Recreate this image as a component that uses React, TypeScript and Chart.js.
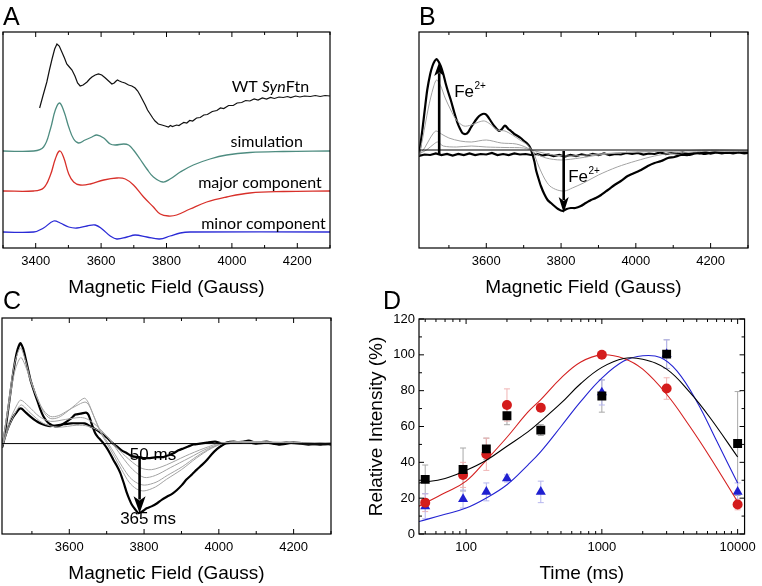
import React, { useEffect, useRef } from "react";
import { Chart, registerables } from "chart.js";

Chart.register(...registerables);

type Pt = [number, number];
const SANS = "'Liberation Sans', Arial, Helvetica, sans-serif";
const HUMAN = "Lato, 'Open Sans', sans-serif";

// ---------------- Panel A (EPR spectra, arbitrary intensity) ----------------
const aFieldMin = 3300;
const aFieldMax = 4300;
const aLabelTicks = [3400, 3600, 3800, 4000, 4200];
const aWt: Pt[] = [
  [3412, 140], [3422, 152], [3434, 166], [3442, 178], [3450, 189], [3458, 199], [3465, 204], [3472, 202],
  [3480, 196], [3488, 190], [3495, 184], [3503, 181], [3511, 178], [3520, 172], [3528, 165], [3536, 162],
  [3545, 163], [3557, 166], [3565, 169], [3572, 171], [3582, 173], [3592, 174], [3602, 173], [3613, 170],
  [3623, 167], [3633, 164], [3640, 165], [3646, 167], [3650, 168], [3656, 167], [3663, 166], [3673, 165],
  [3684, 163], [3694, 162], [3704, 160], [3712, 157], [3719, 153], [3727, 148], [3735, 143], [3742, 138],
  [3750, 134], [3758, 130], [3765, 127], [3775, 124], [3786, 123], [3796, 122], [3806, 121], [3812, 122.5],
  [3818, 121.5], [3831, 123], [3838, 122.5], [3845, 124], [3853, 125.5], [3862, 125], [3871, 127.5], [3880, 127],
  [3892, 130], [3903, 130.5], [3914, 133], [3925, 133.5], [3940, 136.5], [3954, 137.5], [3965, 140], [3975, 139.5],
  [3990, 142.5], [4004, 142.5], [4016, 145], [4030, 145.5], [4042, 147.5], [4055, 147], [4068, 149], [4080, 148],
  [4093, 150], [4106, 149], [4118, 150.5], [4130, 149.5], [4144, 151], [4157, 150.5], [4170, 151.5], [4180, 150.5],
  [4195, 152], [4208, 151], [4222, 152], [4240, 151.5], [4255, 152.5], [4270, 151.5], [4285, 152.5], [4300, 152],
];
const aSim: Pt[] = [
  [3300, 97], [3394, 97], [3424, 101], [3445, 119], [3460, 138], [3473, 145], [3487, 136], [3501, 121],
  [3516, 109], [3531, 105], [3551, 108], [3572, 111], [3587, 113], [3608, 110], [3628, 104], [3643, 103],
  [3669, 104], [3684, 103], [3699, 98], [3719, 89], [3740, 79], [3760, 71], [3789, 66], [3811, 69],
  [3842, 76], [3882, 83], [3933, 89], [3984, 93], [4055, 95.5], [4157, 96.5], [4300, 97],
];
const aMajor: Pt[] = [
  [3300, 57], [3394, 57], [3424, 60], [3445, 73], [3460, 89], [3473, 97], [3485, 91], [3501, 74],
  [3516, 66], [3536, 63], [3567, 64], [3608, 68], [3648, 70], [3674, 69], [3699, 63], [3730, 51],
  [3760, 41], [3781, 34], [3806, 32], [3831, 33], [3872, 39], [3923, 46], [3984, 51], [4055, 55],
  [4157, 56.5], [4300, 57],
];
const aMinor: Pt[] = [
  [3300, 16], [3394, 16], [3424, 20], [3455, 27], [3475, 25], [3501, 21], [3526, 20], [3557, 22],
  [3582, 23], [3603, 19], [3628, 12], [3648, 9], [3679, 11], [3704, 13], [3740, 11], [3779, 9],
  [3811, 12], [3842, 15], [3872, 16], [4300, 16],
];

// ---------------- Panel B ----------------
const bFieldMin = 3420;
const bFieldMax = 4300;
const bLabelTicks = [3600, 3800, 4000, 4200];
const bZero = 98;
const bFinal: Pt[] = [
  [3420, 92], [3429, 118], [3436, 140], [3442, 158], [3450, 174], [3456, 182], [3462, 187], [3467, 189],
  [3473, 186], [3478, 182], [3485, 174], [3491, 165], [3498, 156], [3505, 148], [3514, 136], [3523, 125],
  [3530, 119], [3536, 115], [3545, 114], [3552, 116], [3558, 120], [3565, 124], [3572, 128], [3581, 132],
  [3590, 134], [3597, 134], [3603, 132], [3612, 127], [3621, 122], [3628, 119], [3634, 117], [3642, 119],
  [3648, 122], [3652, 122], [3659, 119], [3666, 117], [3675, 114], [3684, 112], [3692, 110], [3701, 107],
  [3708, 105], [3715, 102], [3720, 98], [3724, 93], [3729, 86], [3733, 78], [3740, 69], [3746, 62],
  [3755, 54], [3764, 48], [3773, 45], [3782, 42], [3792, 39], [3804, 37], [3815, 39], [3826, 40],
  [3838, 40], [3853, 42], [3866, 45], [3880, 48], [3893, 50], [3907, 53], [3925, 58], [3943, 63],
  [3960, 67], [3978, 72], [3996, 75], [4014, 78], [4032, 82], [4050, 85], [4068, 87], [4086, 90],
  [4103, 91], [4121, 93], [4140, 93], [4166, 95], [4185, 94], [4211, 96], [4240, 95], [4270, 96], [4300, 96],
];
const bInitial: Pt[] = [
  [3420, 92], [3435, 93.5], [3450, 93], [3465, 94.5], [3480, 93], [3495, 94], [3510, 92.5], [3525, 94],
  [3540, 93], [3555, 94.5], [3570, 93], [3585, 94], [3600, 93.5], [3615, 95], [3630, 93], [3645, 94],
  [3660, 93], [3675, 94.5], [3690, 93.5], [3705, 94], [3720, 93], [3735, 94], [3750, 92.5], [3765, 93.5],
  [3780, 92], [3795, 93], [3810, 91.5], [3825, 93], [3840, 92], [3855, 93.5], [3870, 92.5], [3885, 94],
  [3900, 93], [3915, 94.5], [3930, 93], [3945, 94], [3960, 93.5], [3975, 95], [3990, 94], [4005, 95],
  [4020, 93.5], [4035, 94.5], [4050, 94], [4065, 95.5], [4080, 94], [4095, 95], [4110, 94.5], [4125, 95.5],
  [4140, 94], [4155, 95], [4170, 94.5], [4185, 96], [4200, 94.5], [4215, 95.5], [4230, 94.5], [4245, 95.5],
  [4260, 94.5], [4275, 95.5], [4290, 94.5], [4300, 95],
];
const bGray1: Pt[] = [
  [3420, 92], [3430, 110], [3445, 140], [3458, 160], [3467, 168], [3478, 162], [3490, 150], [3505, 138],
  [3520, 128], [3540, 122], [3560, 123], [3580, 126], [3595, 127], [3610, 124], [3630, 118], [3650, 117],
  [3670, 113], [3690, 108], [3710, 103], [3725, 96], [3740, 82], [3755, 70], [3770, 62], [3790, 58],
  [3810, 57], [3830, 60], [3860, 65], [3900, 73], [3950, 81], [4000, 87], [4050, 92], [4100, 95],
  [4150, 96], [4200, 97], [4250, 96.5], [4300, 97],
];
const bGray2: Pt[] = [
  [3420, 93], [3435, 100], [3450, 110], [3465, 117], [3480, 114], [3500, 110], [3530, 107], [3560, 106],
  [3600, 108], [3640, 105], [3680, 104], [3710, 100], [3730, 95], [3760, 90], [3800, 88], [3850, 90],
  [3900, 93], [3950, 95], [4000, 96], [4100, 97], [4200, 97.5], [4300, 97],
];
const bGray3: Pt[] = [
  [3420, 94], [3440, 98], [3460, 104], [3470, 106], [3485, 102], [3520, 101], [3560, 102], [3600, 101],
  [3650, 100.5], [3700, 100], [3730, 97], [3780, 93], [3830, 92], [3900, 94], [4000, 96], [4100, 97],
  [4200, 98], [4300, 97.5],
];

// ---------------- Panel C ----------------
const cFieldMin = 3420;
const cFieldMax = 4300;
const cIntensityMin = -8.6;
const cIntensityMax = 215;
const cLabelTicks = [3600, 3800, 4000, 4200];
const cZero = 85;
const c365ms: Pt[] = [
  [3420, 81], [3427, 95], [3433, 110], [3442, 136], [3451, 161], [3460, 180], [3469, 189], [3476, 184],
  [3482, 175], [3489, 163], [3496, 151], [3505, 140], [3514, 130], [3522, 121], [3531, 113], [3540, 108],
  [3549, 105], [3560, 103], [3571, 103], [3582, 105], [3594, 108], [3605, 111], [3616, 115], [3630, 116],
  [3645, 117], [3651, 115], [3656, 110], [3662, 103], [3669, 96], [3676, 92], [3683, 89], [3692, 85],
  [3701, 80], [3710, 74], [3718, 68], [3727, 62], [3736, 55], [3745, 45], [3754, 34], [3761, 27],
  [3767, 22], [3776, 17], [3785, 13], [3796, 15], [3807, 18], [3820, 20], [3834, 23], [3848, 27],
  [3861, 30], [3875, 33], [3888, 37], [3901, 42], [3914, 48], [3928, 53], [3941, 58], [3955, 63],
  [3968, 68], [3981, 74], [3994, 79], [4008, 83], [4021, 86], [4040, 87], [4057, 86], [4080, 88],
  [4100, 86], [4128, 87], [4150, 85], [4180, 86], [4217, 85], [4240, 84], [4270, 85], [4300, 84],
];
const c50ms: Pt[] = [
  [3420, 81], [3428, 92], [3438, 103], [3449, 112], [3460, 118], [3467, 121], [3473, 121], [3484, 117],
  [3496, 113], [3509, 109], [3522, 106], [3536, 104], [3549, 103], [3567, 104], [3585, 105], [3605, 106],
  [3625, 106], [3640, 106], [3647, 105], [3660, 102], [3674, 99], [3688, 95], [3701, 91], [3714, 86],
  [3727, 82], [3740, 78], [3754, 75], [3767, 72], [3781, 71], [3798, 70], [3816, 70], [3834, 71],
  [3852, 71], [3866, 73], [3879, 75], [3892, 78], [3905, 80], [3918, 82], [3932, 84], [3950, 85],
  [3968, 86], [3990, 87], [4010, 85], [4039, 86], [4070, 87], [4100, 85], [4128, 86], [4160, 84],
  [4200, 86], [4240, 85], [4270, 84], [4300, 85],
];
const cGrayA: Pt[] = [
  [3420, 81], [3435, 120], [3452, 165], [3469, 184], [3482, 172], [3496, 152], [3514, 133], [3531, 118],
  [3549, 111], [3571, 112], [3594, 118], [3616, 125], [3640, 132], [3650, 128], [3665, 114], [3683, 97],
  [3701, 85], [3720, 72], [3740, 58], [3760, 45], [3780, 38], [3800, 36], [3830, 40], [3860, 48],
  [3900, 58], [3940, 70], [3980, 80], [4020, 86], [4100, 87], [4200, 86], [4300, 85],
];
const cGrayB: Pt[] = [
  [3420, 81], [3436, 118], [3453, 158], [3470, 174], [3483, 165], [3498, 148], [3515, 131], [3532, 119],
  [3550, 113], [3572, 114], [3595, 119], [3618, 124], [3642, 128], [3652, 125], [3667, 112], [3685, 97],
  [3703, 86], [3722, 74], [3742, 61], [3762, 50], [3782, 44], [3802, 42], [3832, 45], [3862, 52],
  [3902, 61], [3942, 72], [3982, 81], [4022, 86], [4100, 87], [4200, 85], [4300, 86],
];
const cGrayC: Pt[] = [
  [3420, 81], [3440, 108], [3460, 125], [3470, 130], [3490, 124], [3520, 113], [3550, 108], [3590, 110],
  [3630, 112], [3650, 110], [3680, 101], [3710, 88], [3740, 72], [3770, 58], [3800, 50], [3830, 52],
  [3870, 60], [3920, 70], [3970, 80], [4020, 86], [4100, 86], [4200, 85], [4300, 85],
];
const cGrayD: Pt[] = [
  [3420, 81], [3440, 104], [3460, 120], [3472, 125], [3495, 117], [3530, 106], [3570, 102], [3620, 104],
  [3650, 103], [3690, 96], [3720, 84], [3750, 72], [3790, 60], [3820, 58], [3860, 63], [3910, 72],
  [3960, 80], [4010, 86], [4100, 86], [4200, 86], [4300, 85],
];

// ---------------- Panel D (Relative intensity vs time) ----------------
const dTimes = [50, 95, 141, 200, 355, 1000, 3000, 10000];
const dBlack = [30.5, 36, 47.5, 66, 58, 77, 100.4, 50.5];
const dBlackErr = [8, 12, 6, 5, 3, 9, 8, 29];
const dRed = [17.5, 33, 44.5, 72, 70.5, 100, 81.2, 16.5];
const dRedErr = [5, 7, 9, 9, 2, 1, 6, 3];
const dBlue = [15.5, 19.5, 23.5, 31, 23.5, 79, 100.4, 23.5];
const dBlueErr = [7, 5, 5, 2, 6, 7, 8, 5];
const dFitBlackT = [45, 70, 100, 140, 200, 285, 355, 500, 700, 1000, 1450, 2000, 3000, 4450, 6250, 10000];
const dFitBlack = [28.5, 31, 35.5, 41, 49, 57, 63, 73, 84, 93, 98, 97.5, 92, 79, 65, 43];
const dFitRedT = [45, 70, 100, 140, 200, 285, 355, 500, 700, 1000, 1450, 2000, 3000, 4450, 6250, 10000];
const dFitRed = [15.5, 23, 29.5, 41, 54, 68, 75, 87, 96, 100, 98, 92, 78, 60, 43, 18];
const dFitBlueT = [45, 70, 100, 140, 200, 285, 355, 500, 700, 1000, 1450, 2000, 2700, 3570, 5000, 7000, 10000];
const dFitBlue = [7, 11, 14.5, 20, 27.5, 38.5, 46, 60, 74, 87, 96.5, 99.5, 98.5, 91, 74, 52, 28.5];
const dTimeLabels = [100, 1000, 10000];
const dIntensityLabels = [0, 20, 40, 60, 80, 100, 120];

// ---------------- helpers ----------------
const toXY = (p: Pt[]) => p.map(([x, y]) => ({ x, y }));
const zip = (xs: number[], ys: number[]) => xs.map((x, i) => ({ x, y: ys[i] }));
const range = (a: number, b: number, s: number) => {
  const out: number[] = [];
  for (let v = a; v <= b + 1e-9; v += s) out.push(v);
  return out;
};

interface Ann { text: string; x: number; y: number; font: string; align?: CanvasTextAlign; sup?: string; supFont?: string }
interface Arrow { x: number; y0: number; y1: number; lw: number; hw: number; hl: number }
interface Decor {
  letter: string; lx: number; ly: number;
  xMajor: number[]; xMinor: number[]; yMajor?: number[]; yMinor?: number[];
  ann?: Ann[]; arrows?: Arrow[];
  errors?: { xs: number[]; ys: number[]; err: number[]; color: string }[];
}

const decorPlugin = (d: Decor) => ({
  id: "decor",
  beforeDatasetsDraw(chart: any) {
    if (!d.errors) return;
    const { ctx, scales } = chart;
    ctx.save();
    ctx.lineWidth = 1;
    for (const e of d.errors) {
      ctx.strokeStyle = e.color;
      ctx.beginPath();
      e.xs.forEach((x, i) => {
        const px = scales.x.getPixelForValue(x);
        const top = scales.y.getPixelForValue(e.ys[i] + e.err[i]);
        const bot = scales.y.getPixelForValue(e.ys[i] - e.err[i]);
        ctx.moveTo(px, top); ctx.lineTo(px, bot);
        ctx.moveTo(px - 3, top); ctx.lineTo(px + 3, top);
        ctx.moveTo(px - 3, bot); ctx.lineTo(px + 3, bot);
      });
      ctx.stroke();
    }
    ctx.restore();
  },
  afterDatasetsDraw(chart: any) {
    const { ctx, chartArea: a, scales } = chart;
    const xs = scales.x, ys = scales.y;
    ctx.save();
    // annotations
    ctx.fillStyle = "#000";
    ctx.textBaseline = "alphabetic";
    for (const t of d.ann || []) {
      ctx.font = t.font;
      ctx.textAlign = t.align || "left";
      const px = xs.getPixelForValue(t.x);
      const py = ys.getPixelForValue(t.y);
      ctx.fillText(t.text, px, py);
      if (t.sup) {
        const w = ctx.measureText(t.text).width;
        ctx.font = t.supFont || t.font;
        ctx.textAlign = "left";
        ctx.fillText(t.sup, px + w + 0.5, py - 8);
      }
    }
    // arrows
    for (const ar of d.arrows || []) {
      const px = xs.getPixelForValue(ar.x);
      const p0 = ys.getPixelForValue(ar.y0);
      const p1 = ys.getPixelForValue(ar.y1);
      const dir = p1 < p0 ? -1 : 1;
      ctx.strokeStyle = "#000";
      ctx.fillStyle = "#000";
      ctx.lineWidth = ar.lw;
      ctx.beginPath();
      ctx.moveTo(px, p0);
      ctx.lineTo(px, p1 - dir * ar.hl * 0.8);
      ctx.stroke();
      ctx.beginPath();
      ctx.moveTo(px, p1);
      ctx.lineTo(px - ar.hw / 2, p1 - dir * ar.hl);
      ctx.lineTo(px, p1 - dir * ar.hl * 0.75);
      ctx.lineTo(px + ar.hw / 2, p1 - dir * ar.hl);
      ctx.closePath();
      ctx.fill();
    }
    // frame
    ctx.strokeStyle = "#000";
    ctx.lineWidth = 1.2;
    ctx.strokeRect(a.left, a.top, a.right - a.left, a.bottom - a.top);
    ctx.lineWidth = 1;
    ctx.beginPath();
    const hx = (vals: number[], len: number) => vals.forEach((v) => {
      const p = xs.getPixelForValue(v);
      ctx.moveTo(p, a.bottom); ctx.lineTo(p, a.bottom - len);
      ctx.moveTo(p, a.top); ctx.lineTo(p, a.top + len);
    });
    const vy = (vals: number[], len: number) => vals.forEach((v) => {
      const p = ys.getPixelForValue(v);
      ctx.moveTo(a.left, p); ctx.lineTo(a.left + len, p);
      ctx.moveTo(a.right, p); ctx.lineTo(a.right - len, p);
    });
    hx(d.xMajor, 5); hx(d.xMinor, 3);
    if (d.yMajor) vy(d.yMajor, 5);
    if (d.yMinor) vy(d.yMinor, 3);
    ctx.stroke();
    // panel letter
    ctx.fillStyle = "#000";
    ctx.font = `25px ${SANS}`;
    ctx.textAlign = "left";
    ctx.fillText(d.letter, d.lx, d.ly);
    ctx.restore();
  },
});

const line = (data: Pt[], color: string, width: number, tension = 0) => ({
  data: toXY(data), showLine: true, borderColor: color, borderWidth: width,
  pointRadius: 0, tension, fill: false,
});

const fieldAxis = (min: number, max: number, labels: number[]) => ({
  type: "linear" as const, min, max, position: "bottom" as const,
  afterBuildTicks: (s: any) => { s.ticks = labels.map((v) => ({ value: v })); },
  afterFit: (s: any) => { s.height = 52; },
  grid: { display: false, drawTicks: false },
  border: { display: false },
  ticks: { padding: 6, color: "#000", font: { size: 13, family: SANS }, maxRotation: 0, autoSkip: false, callback: (v: any) => String(v) },
  title: { display: true, text: "Magnetic Field (Gauss)", color: "#000", font: { size: 19, family: SANS }, padding: { top: 0, bottom: 0.6 } },
});

const baseOpts = (padding: any, x: any, y: any) => ({
  responsive: false, animation: false as const, events: [] as any[],
  layout: { padding },
  plugins: { legend: { display: false }, tooltip: { enabled: false } },
  scales: { x, y },
});

function configA() {
  return {
    type: "scatter" as const,
    data: {
      datasets: [
        line(aWt, "#111111", 1.2),
        line(aSim, "#4e8c80", 1.3, 0.4),
        line(aMajor, "#d8302a", 1.3, 0.4),
        line(aMinor, "#2b2bd6", 1.3, 0.4),
      ],
    },
    options: baseOpts({ left: 3, right: 51, top: 32, bottom: 0 },
      fieldAxis(aFieldMin, aFieldMax, aLabelTicks), { display: false, min: 0, max: 216 }),
    plugins: [decorPlugin({
      letter: "A", lx: 3, ly: 25,
      xMajor: range(3400, 4200, 200), xMinor: range(3300, 4300, 200),
      ann: [
        { text: "simulation", x: 4217, y: 101, font: `16px ${HUMAN}`, align: "right" },
        { text: "major component", x: 4275, y: 60, font: `16px ${HUMAN}`, align: "right" },
        { text: "minor component", x: 4287, y: 19, font: `16px ${HUMAN}`, align: "right" },
      ],
    }), {
      id: "wtlabel",
      afterDatasetsDraw(chart: any) {
        const { ctx, scales } = chart;
        const right = scales.x.getPixelForValue(4236);
        const y = scales.y.getPixelForValue(156);
        ctx.save();
        ctx.fillStyle = "#000";
        ctx.textBaseline = "alphabetic";
        ctx.textAlign = "left";
        const f1 = `16px ${HUMAN}`, f2 = `italic 16px ${HUMAN}`;
        ctx.font = f1; const w1 = ctx.measureText("WT ").width; const w3 = ctx.measureText("Ftn").width;
        ctx.font = f2; const w2 = ctx.measureText("Syn").width;
        let x = right - (w1 + w2 + w3);
        ctx.font = f1; ctx.fillText("WT ", x, y); x += w1;
        ctx.font = f2; ctx.fillText("Syn", x, y); x += w2;
        ctx.font = f1; ctx.fillText("Ftn", x, y);
        ctx.restore();
      },
    }],
  };
}

function configB() {
  return {
    type: "scatter" as const,
    data: {
      datasets: [
        line([[bFieldMin, bZero], [bFieldMax, bZero]], "#000", 1),
        line(bGray3, "#a3a3a3", 1, 0.3),
        line(bGray2, "#a3a3a3", 1, 0.3),
        line(bGray1, "#a3a3a3", 1, 0.3),
        line(bInitial, "#000", 2.2),
        line(bFinal, "#000", 2.2, 0.2),
      ],
    },
    options: baseOpts({ left: 38, right: 14, top: 32, bottom: 0 },
      fieldAxis(bFieldMin, bFieldMax, bLabelTicks), { display: false, min: 0, max: 216 }),
    plugins: [decorPlugin({
      letter: "B", lx: 38, ly: 25,
      xMajor: range(3600, 4200, 200), xMinor: range(3500, 4300, 200),
      arrows: [
        { x: 3474, y0: 93, y1: 186, lw: 2.6, hw: 10, hl: 14 },
        { x: 3807, y0: 97, y1: 35, lw: 2.6, hw: 10, hl: 16 },
      ],
      ann: [
        { text: "Fe", x: 3514, y: 151, font: `17px ${SANS}`, sup: "2+", supFont: `10px ${SANS}` },
        { text: "Fe", x: 3819, y: 66, font: `17px ${SANS}`, sup: "2+", supFont: `10px ${SANS}` },
      ],
    })],
  };
}

function configC() {
  return {
    type: "scatter" as const,
    data: {
      datasets: [
        line([[cFieldMin, cZero], [cFieldMax, cZero]], "#000", 1),
        line(cGrayD, "#a3a3a3", 1, 0.3),
        line(cGrayC, "#a3a3a3", 1, 0.3),
        line(cGrayB, "#a3a3a3", 1, 0.3),
        line(cGrayA, "#a3a3a3", 1, 0.3),
        line(c50ms, "#000", 2.2, 0.2),
        line(c365ms, "#000", 2.2, 0.2),
      ],
    },
    options: baseOpts({ left: 2, right: 50, top: 36, bottom: 0 },
      fieldAxis(cFieldMin, cFieldMax, cLabelTicks), { display: false, min: cIntensityMin, max: cIntensityMax }),
    plugins: [decorPlugin({
      letter: "C", lx: 3, ly: 27,
      xMajor: range(3600, 4200, 200), xMinor: range(3500, 4300, 200),
      arrows: [{ x: 3788, y0: 72, y1: 13, lw: 2.6, hw: 12, hl: 17 }],
      ann: [
        { text: "50 ms", x: 3762, y: 68, font: `17px ${SANS}` },
        { text: "365 ms", x: 3736, y: 2, font: `17px ${SANS}` },
      ],
    })],
  };
}

function configD() {
  const logMinor: number[] = [];
  [10, 100, 1000].forEach((dec) => { for (let k = 2; k <= 9; k++) { const v = dec * k; if (v >= 45 && v <= 11250) logMinor.push(v); } });
  const markers = (ys: number[], color: string, style: string, r: number) => ({
    data: zip(dTimes, ys), showLine: false, pointStyle: style, pointRadius: r,
    backgroundColor: color, borderColor: color, borderWidth: 0,
  });
  const fit = (ts: number[], ys: number[], color: string) => ({
    data: zip(ts, ys), showLine: true, borderColor: color, borderWidth: 1.1, pointRadius: 0, tension: 0.4,
  });
  return {
    type: "scatter" as const,
    data: {
      datasets: [
        fit(dFitBlackT, dFitBlack, "#000"),
        fit(dFitRedT, dFitRed, "#d42020"),
        fit(dFitBlueT, dFitBlue, "#2323d2"),
        markers(dBlack, "#000", "rect", 6.3),
        markers(dRed, "#d41c1c", "circle", 5),
        markers(dBlue, "#1f1fd0", "triangle", 5.8),
      ],
    },
    options: baseOpts({ left: 0, right: 14, top: 37, bottom: 0 }, {
      type: "logarithmic", min: 45, max: 11250, position: "bottom",
      afterBuildTicks: (s: any) => { s.ticks = dTimeLabels.map((v) => ({ value: v })); },
      afterFit: (s: any) => { s.height = 52; },
      grid: { display: false, drawTicks: false }, border: { display: false },
      ticks: { padding: 6, color: "#000", font: { size: 13, family: SANS }, maxRotation: 0, autoSkip: false, callback: (v: any) => String(v) },
      title: { display: true, text: "Time (ms)", color: "#000", font: { size: 19, family: SANS }, padding: { top: 0, bottom: 0.6 } },
    }, {
      type: "linear", min: 0, max: 120, position: "left",
      afterBuildTicks: (s: any) => { s.ticks = dIntensityLabels.map((v) => ({ value: v })); },
      afterFit: (s: any) => { s.width = 59; },
      grid: { display: false, drawTicks: false }, border: { display: false },
      ticks: { padding: 4, color: "#000", font: { size: 13, family: SANS }, callback: (v: any) => String(v) },
      title: { display: true, text: "Relative Intensity (%)", color: "#000", font: { size: 19, family: SANS }, padding: { top: 5.6, bottom: 0 } },
    }),
    plugins: [decorPlugin({
      letter: "D", lx: 23, ly: 27,
      xMajor: [100, 1000, 10000], xMinor: logMinor,
      yMajor: range(0, 120, 20), yMinor: range(10, 110, 20),
      errors: [
        { xs: dTimes, ys: dBlack, err: dBlackErr, color: "#a8a8a8" },
        { xs: dTimes, ys: dRed, err: dRedErr, color: "#f0b4b4" },
        { xs: dTimes, ys: dBlue, err: dBlueErr, color: "#b6b6ee" },
      ],
    })],
  };
}

function Panel({ left, top, width, height, make }: { left: number; top: number; width: number; height: number; make: () => any }) {
  const ref = useRef<HTMLCanvasElement>(null);
  useEffect(() => {
    const chart = new Chart(ref.current as HTMLCanvasElement, make());
    return () => chart.destroy();
  }, []);
  return (
    <canvas ref={ref} width={width} height={height}
      style={{ position: "absolute", left, top, width, height }} />
  );
}

export default function App() {
  useEffect(() => { document.body.style.margin = "0"; }, []);
  return (
    <div style={{ position: "fixed", left: 0, top: 0, width: 762, height: 586, background: "#fff", overflow: "hidden" }}>
      <Panel left={0} top={0} width={381} height={300} make={configA} />
      <Panel left={381} top={0} width={381} height={300} make={configB} />
      <Panel left={0} top={282} width={381} height={304} make={configC} />
      <Panel left={360} top={282} width={402} height={304} make={configD} />
    </div>
  );
}
